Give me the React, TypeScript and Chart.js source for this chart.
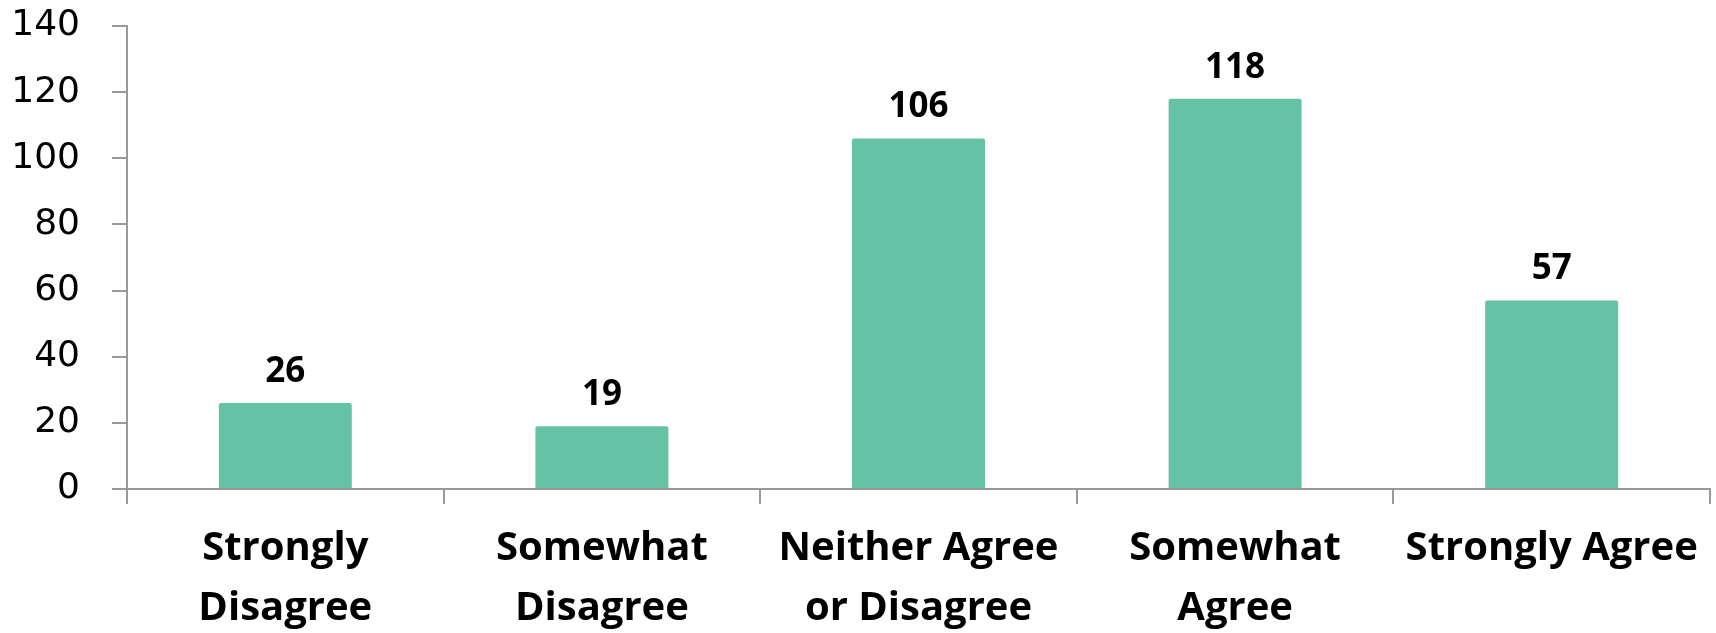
import React, { useEffect, useRef } from "react";
import { Chart, registerables } from "chart.js";

Chart.register(...registerables);

const categories: (string | string[])[] = [
  ["Strongly", "Disagree"],
  ["Somewhat", "Disagree"],
  ["Neither Agree", "or Disagree"],
  ["Somewhat", "Agree"],
  "Strongly Agree",
];
const counts: number[] = [26, 19, 106, 118, 57];
const yTicks: number[] = [0, 20, 40, 60, 80, 100, 120, 140];

const BAR_COLOR = "#66C2A5";
const AXIS_COLOR = "#999999";

const valueLabels = {
  id: "valueLabels",
  afterDatasetsDraw(chart: any) {
    const ctx = chart.ctx;
    const meta = chart.getDatasetMeta(0);
    ctx.save();
    ctx.font = "bold 35px 'Open Sans'";
    ctx.fillStyle = "#000000";
    ctx.textAlign = "center";
    ctx.textBaseline = "alphabetic";
    meta.data.forEach((bar: any, i: number) => {
      ctx.fillText(String(counts[i]), bar.x, bar.y - 21);
    });
    ctx.restore();
  },
};

export default function App() {
  const ref = useRef<HTMLCanvasElement | null>(null);
  useEffect(() => {
    document.body.style.margin = "0";
    const chart = new Chart(ref.current as HTMLCanvasElement, {
      type: "bar",
      data: {
        labels: categories,
        datasets: [
          {
            data: counts,
            backgroundColor: BAR_COLOR,
            borderRadius: 2,
            categoryPercentage: 1,
            barPercentage: 0.42,
          },
        ],
      },
      options: {
        responsive: false,
        animation: false,
        events: [],
        layout: { padding: { top: 26, right: 6, left: 0, bottom: 0 } },
        plugins: {
          legend: { display: false },
          tooltip: { enabled: false },
          title: { display: false },
        },
        scales: {
          x: {
            offset: true,
            grid: {
              display: true,
              offset: true,
              drawOnChartArea: false,
              drawTicks: true,
              tickLength: 15,
              color: AXIS_COLOR,
              lineWidth: 2,
            },
            border: { display: true, color: AXIS_COLOR, width: 2 },
            ticks: {
              color: "#000000",
              font: { family: "'Open Sans'", size: 40, weight: "bold", lineHeight: 1.5 },
              padding: 15,
              maxRotation: 0,
              autoSkip: false,
            },
            afterFit(scale: any) {
              scale.height = 144;
              scale.paddingLeft = 0;
              scale.paddingRight = 0;
            },
          },
          y: {
            min: 0,
            max: 140,
            afterBuildTicks(scale: any) {
              scale.ticks = yTicks.map((v) => ({ value: v }));
            },
            grid: {
              display: true,
              drawOnChartArea: false,
              drawTicks: true,
              tickLength: 15,
              color: AXIS_COLOR,
              lineWidth: 2,
            },
            border: { display: true, color: AXIS_COLOR, width: 2 },
            ticks: {
              color: "#000000",
              font: { family: "'DejaVu Sans'", size: 36 },
              padding: 32,
            },
            afterFit(scale: any) {
              scale.width = 127;
              scale.paddingTop = 0;
              scale.paddingBottom = 0;
            },
          },
        },
      },
      plugins: [valueLabels],
    });
    return () => chart.destroy();
  }, []);
  return (
    <div style={{ width: 1716, height: 633 }}>
      <canvas ref={ref} width={1716} height={633} />
    </div>
  );
}
